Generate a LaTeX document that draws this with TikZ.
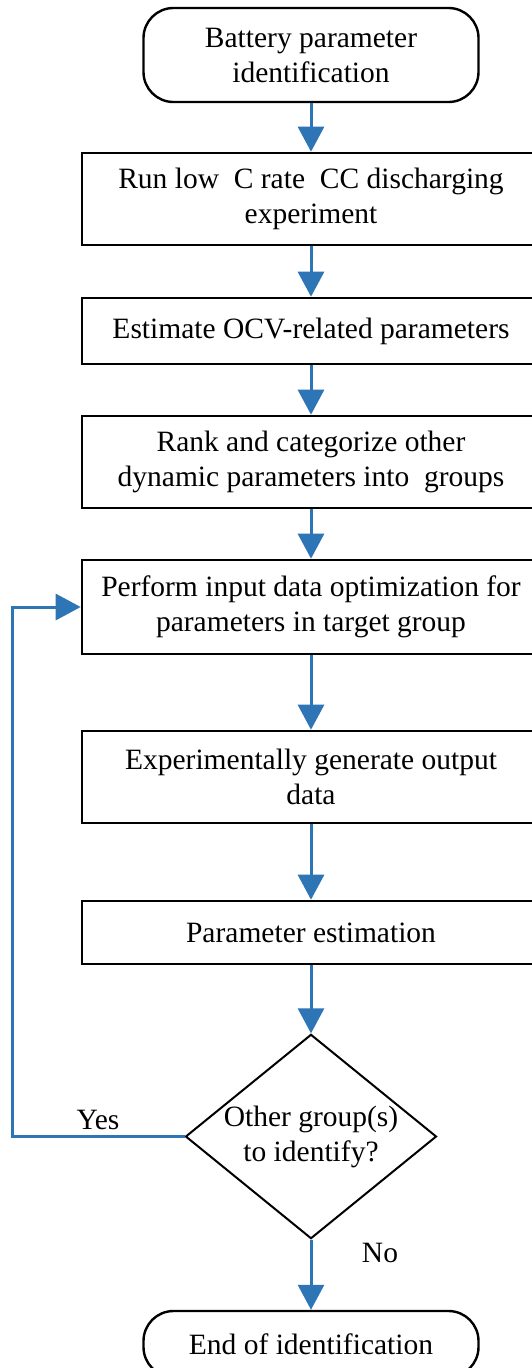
\documentclass[tikz,border=0pt]{standalone}
\usepackage{fontspec}
\setmainfont{Liberation Serif}
\usetikzlibrary{arrows.meta,shapes.geometric}
\definecolor{flowblue}{HTML}{2E75B6}
\begin{document}
\begin{tikzpicture}[x=1pt,y=-1pt,
  every node/.style={font=\fontsize{29.5}{35}\selectfont, inner sep=0pt},
  stepbox/.style={draw=black, line width=2.6pt, minimum width=458pt, align=center},
  term/.style={draw=black, line width=2.4pt, rounded corners=30pt, minimum width=335pt, align=center},
  decision/.style={draw=black, line width=2pt, diamond, inner sep=-8pt,
    minimum width=251pt, minimum height=189pt, align=center},
  flow/.style={draw=flowblue, line width=3pt, -{Triangle[length=25pt,width=26pt]}},
  lbl/.style={text=black}]
\useasboundingbox (0,0) rectangle (531,1368);

% process steps
\node[term, minimum height=94pt] (start) at (311,55) {Battery parameter\\identification};
\node[stepbox, minimum height=92pt] (b1) at (311,199) {Run low\ \ C rate\ \ CC discharging\\experiment};
\node[stepbox, minimum height=66pt] (b2) at (311,331) {Estimate OCV-related parameters};
\node[stepbox, minimum height=92pt] (b3) at (311,462) {Rank and categorize other\\dynamic parameters into\ \ groups};
\node[stepbox, minimum height=94pt] (b4) at (311,607) {Perform input data optimization for\\parameters in target group};
\node[stepbox, minimum height=92pt] (b5) at (311,777) {Experimentally generate output\\data};
\node[stepbox, minimum height=63pt] (b6) at (311,932.5) {Parameter estimation};
\node[decision] (dec) at (311,1136.5) {Other group(s)\\to identify?};
\node[term, minimum height=66pt] (end) at (311,1344) {End of identification};

% connectors
\draw[flow] (start) -- (b1);
\draw[flow] (b1) -- (b2);
\draw[flow] (b2) -- (b3);
\draw[flow] (b3) -- (b4);
\draw[flow] (b4) -- (b5);
\draw[flow] (b5) -- (b6);
\draw[flow] (b6) -- (dec);
\draw[flow] (dec) -- (end);
\coordinate (loop) at (12,1136.5);
\draw[flow] (dec.west) -- (loop) |- (b4.west);

% branch labels
\node[lbl] (yes) at (98,1120) {Yes};
\node[lbl] (no) at (380,1253) {No};
\end{tikzpicture}
\end{document}
